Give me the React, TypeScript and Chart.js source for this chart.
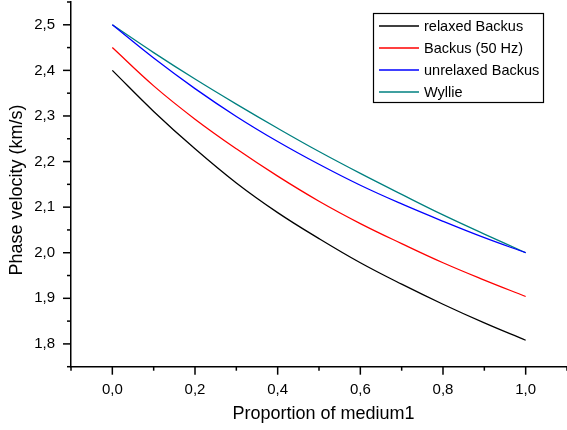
import React, { useEffect, useRef } from "react";
import { Chart, registerables } from "chart.js";

Chart.register(...registerables);

const proportion = [0, 0.1, 0.2, 0.3, 0.4, 0.5, 0.6, 0.7, 0.8, 0.9, 1.0];
const relaxedBackus = [2.4, 2.31, 2.228, 2.153, 2.088, 2.031, 1.978, 1.931, 1.887, 1.846, 1.808];
const backus50Hz = [2.45, 2.366, 2.293, 2.228, 2.168, 2.113, 2.064, 2.02, 1.978, 1.94, 1.904];
const unrelaxedBackus = [2.5, 2.427, 2.36, 2.299, 2.244, 2.194, 2.148, 2.107, 2.069, 2.033, 2.0];
const wyllie = [2.5, 2.439, 2.381, 2.326, 2.273, 2.222, 2.174, 2.128, 2.083, 2.041, 2.0];

const seriesLabels = ["relaxed Backus", "Backus (50 Hz)", "unrelaxed Backus", "Wyllie"];
const seriesColors = ["#000000", "#ff0000", "#0000ff", "#008080"];
const seriesValues = [relaxedBackus, backus50Hz, unrelaxedBackus, wyllie];

const xTitle = "Proportion of medium1";
const yTitle = "Phase velocity (km/s)";

const FONT = "'Liberation Sans', Arial, sans-serif";

const fmt = (v: number) => v.toFixed(1).replace(".", ",");

const customPlugin = {
  id: "customDraw",
  afterDraw(chart: any) {
    const ctx = chart.ctx;
    const xs = chart.scales.x;
    const ys = chart.scales.y;
    ctx.save();
    ctx.strokeStyle = "#000";
    ctx.lineWidth = 1.5;
    xs.ticks.forEach((t: any) => {
      const px = xs.getPixelForValue(t.value);
      const major = Math.abs(Math.round(t.value * 10)) % 2 === 0;
      ctx.beginPath();
      ctx.moveTo(px, xs.top);
      ctx.lineTo(px, xs.top + (major ? 8 : 4));
      ctx.stroke();
    });
    ys.ticks.forEach((t: any) => {
      const py = ys.getPixelForValue(t.value);
      const major = Math.abs(Math.round(t.value * 100)) % 10 === 0;
      ctx.beginPath();
      ctx.moveTo(ys.right, py);
      ctx.lineTo(ys.right - (major ? 8 : 4), py);
      ctx.stroke();
    });
    // axis titles
    ctx.fillStyle = "#000";
    ctx.font = `18px ${FONT}`;
    ctx.textAlign = "center";
    ctx.textBaseline = "alphabetic";
    ctx.fillText(xTitle, 323.5, 419);
    ctx.save();
    ctx.translate(22, 190);
    ctx.rotate(-Math.PI / 2);
    ctx.fillText(yTitle, 0, 0);
    ctx.restore();
    // legend
    const bx = 373, by = 13, bw = 170, bh = 89;
    ctx.fillStyle = "#fff";
    ctx.fillRect(bx, by, bw, bh);
    ctx.lineWidth = 1.2;
    ctx.strokeStyle = "#000";
    ctx.strokeRect(bx + 0.5, by + 0.5, bw, bh);
    ctx.font = `14.5px ${FONT}`;
    ctx.textBaseline = "middle";
    ctx.textAlign = "left";
    chart.data.datasets.forEach((ds: any, i: number) => {
      const cy = by + 13 + i * 22;
      ctx.strokeStyle = ds.borderColor;
      ctx.lineWidth = 1.3;
      ctx.beginPath();
      ctx.moveTo(379, cy);
      ctx.lineTo(419, cy);
      ctx.stroke();
      ctx.fillStyle = "#000";
      ctx.fillText(ds.label, 424, cy + 1);
    });
    ctx.restore();
  },
};

export default function App() {
  const ref = useRef<HTMLCanvasElement | null>(null);
  useEffect(() => {
    if (!ref.current) return;
    const datasets = seriesValues.map((vals, i) => ({
      label: seriesLabels[i],
      data: proportion.map((p, j) => ({ x: p, y: vals[j] })),
      borderColor: seriesColors[i],
      backgroundColor: seriesColors[i],
      borderWidth: 1.3,
      pointRadius: 0,
      tension: 0.4,
      fill: false,
    }));
    const chart = new Chart(ref.current, {
      type: "line",
      data: { datasets },
      plugins: [customPlugin],
      options: {
        animation: false,
        responsive: true,
        maintainAspectRatio: false,
        layout: { padding: { top: 2, right: 0, left: 0, bottom: 0 } },
        plugins: { legend: { display: false }, tooltip: { enabled: false } },
        scales: {
          x: {
            type: "linear",
            min: -0.1,
            max: 1.1,
            afterFit: (s: any) => {
              s.height = 63.3;
              s.paddingLeft = 0;
              s.paddingRight = 0;
              s.paddingTop = 0;
              s.paddingBottom = 0;
            },
            grid: {
              display: true,
              drawOnChartArea: false,
              drawTicks: true,
              tickLength: 8,
              tickColor: "rgba(0,0,0,0)",
            },
            border: { display: true, color: "#000", width: 1.5 },
            ticks: {
              stepSize: 0.1,
              autoSkip: false,
              maxRotation: 0,
              padding: 6,
              color: "#000",
              font: { family: FONT, size: 15 },
              callback: (v: any) => {
                const n = Math.round(Number(v) * 10);
                return n % 2 === 0 && n >= 0 && n <= 10 ? fmt(Number(v)) : "";
              },
            },
            title: { display: false },
          },
          y: {
            type: "linear",
            min: 1.75,
            max: 2.55,
            afterFit: (s: any) => {
              s.width = 71;
              s.paddingLeft = 0;
              s.paddingRight = 0;
              s.paddingTop = 0;
              s.paddingBottom = 0;
            },
            grid: {
              display: true,
              drawOnChartArea: false,
              drawTicks: true,
              tickLength: 8,
              tickColor: "rgba(0,0,0,0)",
            },
            border: { display: true, color: "#000", width: 1.5 },
            ticks: {
              stepSize: 0.05,
              autoSkip: false,
              padding: 8,
              color: "#000",
              font: { family: FONT, size: 15 },
              callback: (v: any) => {
                const n = Math.round(Number(v) * 100);
                return n % 10 === 0 ? fmt(Number(v)) : "";
              },
            },
            title: { display: false },
          },
        },
      },
    });
    return () => chart.destroy();
  }, []);
  return (
    <div style={{ position: "fixed", left: 0, top: 0, width: 567, height: 430, background: "#fff" }}>
      <canvas ref={ref} />
    </div>
  );
}
